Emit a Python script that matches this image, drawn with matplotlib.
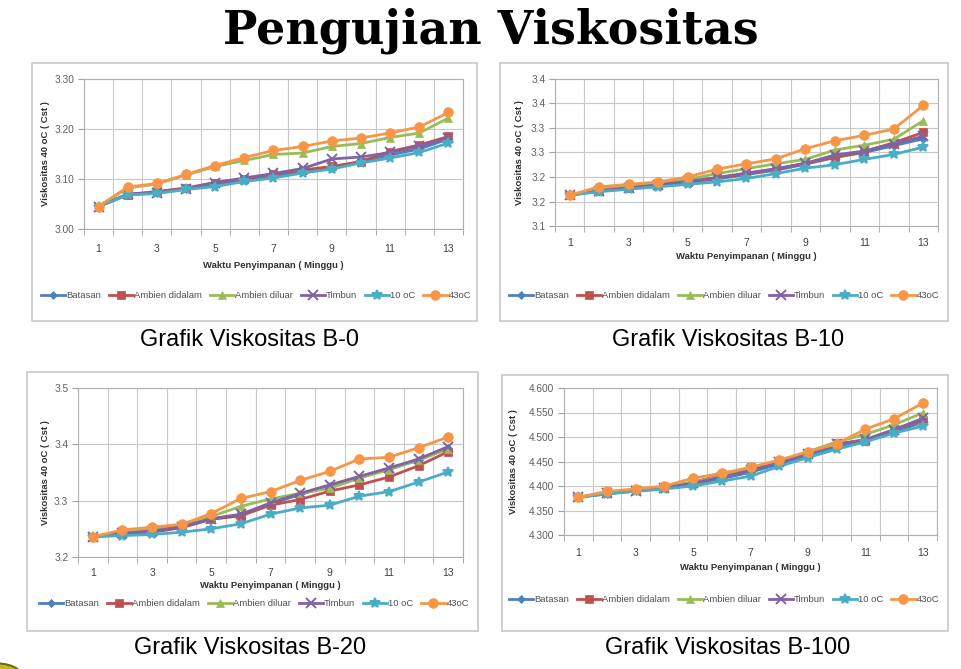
import matplotlib
matplotlib.use("Agg")
import matplotlib.pyplot as plt
from matplotlib.patches import Rectangle, Circle

# ---------------- data ----------------
weeks = list(range(1, 14))
week_ticks = [1, 3, 5, 7, 9, 11, 13]
series_names = ["Batasan", "Ambien didalam", "Ambien diluar", "Timbun", "10 oC", "43oC"]

# B-0
b0_batasan = [3.045, 3.069, 3.072, 3.080, 3.088, 3.098, 3.105, 3.115, 3.122, 3.135, 3.148, 3.160, 3.180]
b0_didalam = [3.045, 3.069, 3.075, 3.082, 3.093, 3.100, 3.110, 3.118, 3.125, 3.135, 3.155, 3.168, 3.185]
b0_diluar  = [3.045, 3.082, 3.090, 3.108, 3.125, 3.137, 3.149, 3.152, 3.165, 3.171, 3.183, 3.192, 3.222]
b0_timbun  = [3.045, 3.070, 3.073, 3.080, 3.093, 3.102, 3.111, 3.121, 3.140, 3.144, 3.153, 3.165, 3.182]
b0_10c     = [3.045, 3.068, 3.071, 3.079, 3.085, 3.095, 3.102, 3.112, 3.120, 3.132, 3.142, 3.153, 3.172]
b0_43c     = [3.045, 3.084, 3.091, 3.109, 3.127, 3.143, 3.157, 3.165, 3.176, 3.182, 3.192, 3.204, 3.233]

# B-10
b10_batasan = [3.163, 3.171, 3.177, 3.183, 3.189, 3.196, 3.205, 3.214, 3.226, 3.240, 3.250, 3.264, 3.278]
b10_didalam = [3.163, 3.172, 3.178, 3.184, 3.190, 3.198, 3.207, 3.216, 3.228, 3.240, 3.252, 3.270, 3.291]
b10_diluar  = [3.163, 3.175, 3.182, 3.187, 3.195, 3.207, 3.217, 3.227, 3.236, 3.255, 3.265, 3.277, 3.315]
b10_timbun  = [3.163, 3.172, 3.178, 3.184, 3.191, 3.199, 3.208, 3.217, 3.228, 3.245, 3.253, 3.268, 3.283]
b10_10c     = [3.163, 3.170, 3.175, 3.180, 3.185, 3.190, 3.197, 3.207, 3.218, 3.225, 3.236, 3.246, 3.261]
b10_43c     = [3.163, 3.180, 3.185, 3.190, 3.200, 3.216, 3.227, 3.237, 3.258, 3.274, 3.285, 3.298, 3.346]

# B-20
b20_batasan = [3.236, 3.241, 3.245, 3.253, 3.267, 3.275, 3.294, 3.311, 3.326, 3.341, 3.356, 3.372, 3.393]
b20_didalam = [3.236, 3.240, 3.244, 3.252, 3.267, 3.273, 3.292, 3.302, 3.317, 3.328, 3.342, 3.362, 3.387]
b20_diluar  = [3.236, 3.245, 3.250, 3.255, 3.272, 3.290, 3.303, 3.313, 3.322, 3.340, 3.355, 3.372, 3.392]
b20_timbun  = [3.236, 3.242, 3.246, 3.254, 3.268, 3.276, 3.296, 3.313, 3.328, 3.343, 3.358, 3.374, 3.396]
b20_10c     = [3.236, 3.238, 3.240, 3.244, 3.250, 3.259, 3.276, 3.287, 3.292, 3.308, 3.316, 3.333, 3.351]
b20_43c     = [3.236, 3.248, 3.253, 3.258, 3.277, 3.304, 3.316, 3.336, 3.352, 3.374, 3.377, 3.394, 3.413]

# B-100
b100_batasan = [4.377, 4.384, 4.390, 4.395, 4.404, 4.415, 4.428, 4.445, 4.463, 4.480, 4.492, 4.510, 4.530]
b100_didalam = [4.377, 4.385, 4.391, 4.397, 4.408, 4.422, 4.438, 4.450, 4.468, 4.487, 4.492, 4.515, 4.535]
b100_diluar  = [4.377, 4.386, 4.392, 4.398, 4.408, 4.420, 4.435, 4.450, 4.470, 4.490, 4.505, 4.525, 4.549]
b100_timbun  = [4.377, 4.385, 4.390, 4.396, 4.406, 4.418, 4.432, 4.448, 4.466, 4.485, 4.495, 4.515, 4.538]
b100_10c     = [4.377, 4.384, 4.389, 4.394, 4.400, 4.410, 4.420, 4.440, 4.458, 4.475, 4.490, 4.508, 4.522]
b100_43c     = [4.377, 4.389, 4.394, 4.400, 4.416, 4.426, 4.438, 4.453, 4.470, 4.486, 4.516, 4.537, 4.569]

b0_yticks = [3.00, 3.10, 3.20, 3.30]
b0_ylabels = ["3.00", "3.10", "3.20", "3.30"]
b10_yticks = [3.10, 3.15, 3.20, 3.25, 3.30, 3.35, 3.40]
b10_ylabels = ["3.1", "3.2", "3.2", "3.3", "3.3", "3.4", "3.4"]
b20_yticks = [3.2, 3.3, 3.4, 3.5]
b20_ylabels = ["3.2", "3.3", "3.4", "3.5"]
b100_yticks = [4.30, 4.35, 4.40, 4.45, 4.50, 4.55, 4.60]
b100_ylabels = ["4.300", "4.350", "4.400", "4.450", "4.500", "4.550", "4.600"]

title = "Pengujian Viskositas"
captions = ["Grafik Viskositas B-0", "Grafik Viskositas B-10",
            "Grafik Viskositas B-20", "Grafik Viskositas B-100"]
xlabel = "Waktu Penyimpanan ( Minggu )"
ylabel = "Viskositas 40 oC ( Cst )"

# ---------------- style ----------------
colors = ["#4F81BD", "#C0504D", "#9BBB59", "#8064A2", "#4BACC6", "#F79646"]
markers = ["D", "s", "^", "x", "*", "o"]
msizes = [4, 6, 6, 6.5, 7.5, 7]

W, H = 962, 669
fig = plt.figure(figsize=(W / 100, H / 100), dpi=100)
fig.patch.set_facecolor("white")
plt.rcParams["font.family"] = ["Liberation Sans", "DejaVu Sans"]


def rect(x0, y0, x1, y1):
    return [x0 / W, 1 - y1 / H, (x1 - x0) / W, (y1 - y0) / H]


panels = [
    dict(data=[b0_batasan, b0_didalam, b0_diluar, b0_timbun, b0_10c, b0_43c],
         yt=b0_yticks, yl=b0_ylabels, ax=(84, 79, 463, 229), box=(32, 63, 477, 321),
         xtl_pad=11, xlab_y=265, ylab_x=46, leg_y=296, leg_x=256, cap=(250, 340)),
    dict(data=[b10_batasan, b10_didalam, b10_diluar, b10_timbun, b10_10c, b10_43c],
         yt=b10_yticks, yl=b10_ylabels, ax=(555, 79, 938, 226), box=(500, 63, 948, 321),
         xtl_pad=9, xlab_y=256, ylab_x=520, leg_y=296, leg_x=724, cap=(728, 340)),
    dict(data=[b20_batasan, b20_didalam, b20_diluar, b20_timbun, b20_10c, b20_43c],
         yt=b20_yticks, yl=b20_ylabels, ax=(78, 388, 463, 557), box=(27, 372, 478, 631),
         xtl_pad=8, xlab_y=586, ylab_x=45, leg_y=604, leg_x=254, cap=(250, 648)),
    dict(data=[b100_batasan, b100_didalam, b100_diluar, b100_timbun, b100_10c, b100_43c],
         yt=b100_yticks, yl=b100_ylabels, ax=(564, 388, 937, 535), box=(502, 375, 948, 631),
         xtl_pad=9, xlab_y=567, ylab_x=514, leg_y=600, leg_x=724, cap=(728, 648)),
]

# title
fig.text(491 / W, 1 - 31 / H, title, ha="center", va="center",
         fontsize=33, fontweight="bold", family=["DejaVu Serif"], color="black")

for i, p in enumerate(panels):
    bx0, by0, bx1, by1 = p["box"]
    fig.patches.append(Rectangle((bx0 / W, 1 - by1 / H), (bx1 - bx0) / W, (by1 - by0) / H,
                                 transform=fig.transFigure, fill=False,
                                 edgecolor="#C8C8C8", linewidth=1.2, zorder=0))
    ax = fig.add_axes(rect(*p["ax"]))
    for vals, c, m, ms, name in zip(p["data"], colors, markers, msizes, series_names):
        ax.plot(weeks, vals, color=c, marker=m, markersize=ms, linewidth=2.0,
                markeredgewidth=1.4 if m in ("x", "*") else 0.5,
                markeredgecolor=c, label=name, zorder=3)
    ax.set_xlim(0.5, 13.5)
    ax.set_ylim(p["yt"][0], p["yt"][-1])
    ax.set_xticks(week_ticks)
    ax.set_xticklabels([str(w) for w in week_ticks])
    ax.set_xticks([w + 0.5 for w in range(0, 14)], minor=True)
    ax.set_yticks(p["yt"])
    ax.set_yticklabels(p["yl"])
    ax.grid(which="minor", axis="x", color="#C8C8C8", linewidth=0.8)
    ax.grid(which="major", axis="y", color="#C8C8C8", linewidth=0.8)
    ax.tick_params(axis="x", which="major", length=0, pad=p["xtl_pad"],
                   labelsize=7.5, labelcolor="#404040")
    ax.tick_params(axis="x", which="minor", length=4, color="#A0A0A0", direction="out")
    ax.tick_params(axis="y", which="major", length=4, color="#A0A0A0",
                   labelsize=7.3, labelcolor="#606060", pad=3)
    for s in ax.spines.values():
        s.set_color("#B0B0B0")
        s.set_linewidth(0.8)
    ax.set_axisbelow(True)
    axx0, axy0, axx1, axy1 = p["ax"]
    fig.text(((axx0 + axx1) / 2) / W, 1 - p["xlab_y"] / H, xlabel, ha="center", va="center",
             fontsize=6.8, fontweight="bold", color="#303030")
    fig.text(p["ylab_x"] / W, 1 - ((axy0 + axy1) / 2) / H, ylabel, ha="center", va="center",
             rotation=90, fontsize=6.8, fontweight="bold", color="#303030")
    leg = ax.legend(loc="center", bbox_to_anchor=(p["leg_x"] / W, 1 - p["leg_y"] / H),
                    bbox_transform=fig.transFigure, ncol=6, frameon=False,
                    fontsize=6.8, handlelength=2.6, handletextpad=0.1,
                    columnspacing=0.8, borderaxespad=0)
    for t in leg.get_texts():
        t.set_color("#505050")
    fig.text(p["cap"][0] / W, 1 - p["cap"][1] / H, captions[i],
             ha="center", va="center", fontsize=17, color="black")

# decorative corner
fig.patches.append(Circle((-2 / W, 1 - 683 / H), 28 / W, transform=fig.transFigure,
                          facecolor="#C8B820", edgecolor="#6B6B10", linewidth=1.5, zorder=0))

fig.savefig("out.png", dpi=100, facecolor="white")
